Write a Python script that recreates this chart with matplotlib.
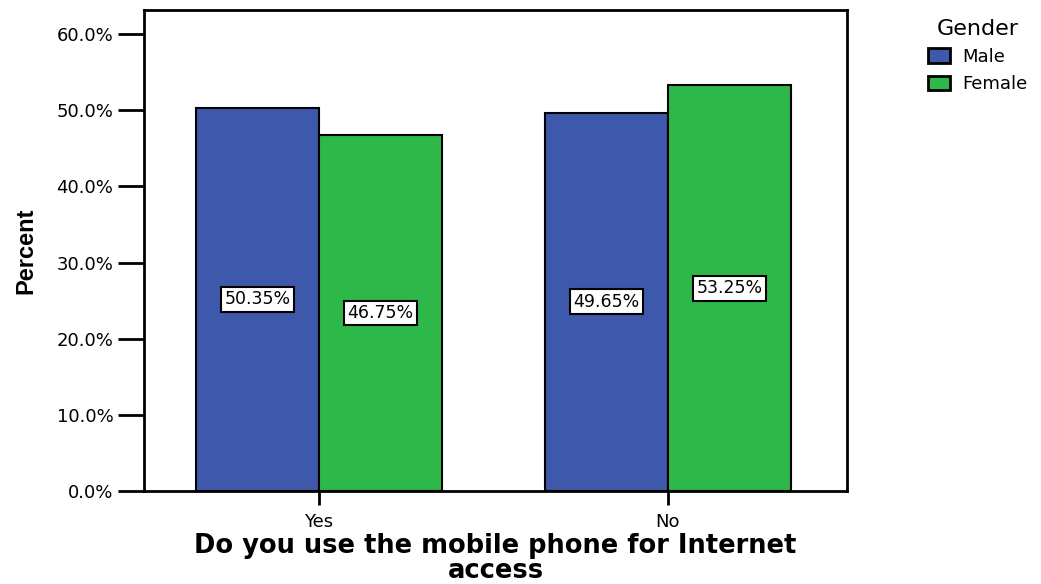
import matplotlib.pyplot as plt
import numpy as np
from matplotlib.ticker import FuncFormatter

categories = ["Yes", "No"]
male = [50.35, 49.65]
female = [46.75, 53.25]
series_names = ["Male", "Female"]

plt.rcParams['font.family'] = ['DejaVu Sans']

fig = plt.figure(figsize=(10.41, 5.84), dpi=100)
ax = fig.add_axes([0.1383, 0.1592, 0.6753, 0.8236])

x = np.arange(len(categories))
w = 0.352
blue = "#3e58ac"
green = "#2eb84a"
b1 = ax.bar(x - w / 2, male, w, color=blue, edgecolor="black", linewidth=1.5, label=series_names[0])
b2 = ax.bar(x + w / 2, female, w, color=green, edgecolor="black", linewidth=1.5, label=series_names[1])

for bars, vals in [(b1, male), (b2, female)]:
    for rect, v in zip(bars, vals):
        ax.text(rect.get_x() + rect.get_width() / 2, v / 2, f"{v:.2f}%",
                ha="center", va="center", fontsize=12.5,
                bbox=dict(boxstyle="square,pad=0.2", facecolor="white", edgecolor="black", linewidth=1.5))

ax.set_xlim(-0.501, 1.513)
ax.set_ylim(0, 63.15)
ax.set_yticks(np.arange(0, 61, 10))
ax.yaxis.set_major_formatter(FuncFormatter(lambda v, p: f"{v:.1f}%"))
ax.set_xticks(x)
ax.set_xticklabels(categories)
ax.tick_params(axis="y", length=19, width=2, labelsize=13, pad=3)
ax.tick_params(axis="x", length=10, width=2, labelsize=13, pad=6)
for s in ax.spines.values():
    s.set_linewidth(2)

ax.set_xlabel("Do you use the mobile phone for Internet\naccess", fontsize=18.5, fontweight="bold", linespacing=0.95)
ax.xaxis.set_label_coords(0.5, -0.088)
ax.set_ylabel("Percent", fontsize=17, fontweight="bold", family=['Liberation Sans Narrow', 'Liberation Sans'])
ax.yaxis.set_label_coords(-0.152, 0.5)

leg = fig.legend(handles=[b1, b2], title="Gender", loc="upper left", bbox_to_anchor=(0.876, 0.995),
                 frameon=False, fontsize=13, title_fontsize=16, handlelength=1.2, handleheight=0.9,
                 handletextpad=0.7, labelspacing=0.5, alignment="center")
for h in leg.legend_handles:
    h.set_linewidth(2)

fig.savefig("out.png", dpi=100)
